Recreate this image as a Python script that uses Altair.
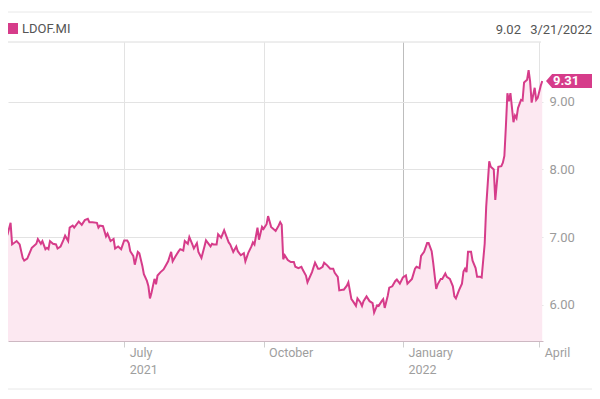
import altair as alt
import pandas as pd

# ---- data ----
dates = [
    "2021-04-10", "2021-04-12", "2021-04-14", "2021-04-15", "2021-04-17", "2021-04-18", "2021-04-21",
    "2021-04-23", "2021-04-25", "2021-04-26", "2021-04-28", "2021-05-01", "2021-05-02", "2021-05-04",
    "2021-05-05", "2021-05-07", "2021-05-08", "2021-05-10", "2021-05-11", "2021-05-12", "2021-05-13",
    "2021-05-15", "2021-05-17", "2021-05-18", "2021-05-20", "2021-05-22", "2021-05-23", "2021-05-25",
    "2021-05-26", "2021-05-28", "2021-05-29", "2021-06-01", "2021-06-03", "2021-06-05", "2021-06-07",
    "2021-06-08", "2021-06-10", "2021-06-13", "2021-06-14", "2021-06-15", "2021-06-17", "2021-06-19",
    "2021-06-20", "2021-06-22", "2021-06-24", "2021-06-25", "2021-06-27", "2021-06-29", "2021-07-01",
    "2021-07-03", "2021-07-04", "2021-07-05", "2021-07-07", "2021-07-08", "2021-07-10", "2021-07-11",
    "2021-07-13", "2021-07-14", "2021-07-16", "2021-07-17", "2021-07-18", "2021-07-19", "2021-07-21",
    "2021-07-22", "2021-07-23", "2021-07-25", "2021-07-27", "2021-07-28", "2021-07-30", "2021-08-01",
    "2021-08-02", "2021-08-04", "2021-08-06", "2021-08-07", "2021-08-09", "2021-08-10", "2021-08-12",
    "2021-08-13", "2021-08-15", "2021-08-16", "2021-08-18", "2021-08-19", "2021-08-21", "2021-08-23",
    "2021-08-24", "2021-08-25", "2021-08-27", "2021-08-28", "2021-08-29", "2021-08-31", "2021-09-01",
    "2021-09-03", "2021-09-05", "2021-09-06", "2021-09-08", "2021-09-09", "2021-09-11", "2021-09-13",
    "2021-09-14", "2021-09-16", "2021-09-18", "2021-09-19", "2021-09-21", "2021-09-23", "2021-09-24",
    "2021-09-25", "2021-09-27", "2021-09-28", "2021-09-30", "2021-10-01", "2021-10-03", "2021-10-04",
    "2021-10-06", "2021-10-09", "2021-10-11", "2021-10-12", "2021-10-13", "2021-10-14", "2021-10-15",
    "2021-10-17", "2021-10-19", "2021-10-21", "2021-10-22", "2021-10-24", "2021-10-26", "2021-10-27",
    "2021-10-29", "2021-10-30", "2021-11-02", "2021-11-04", "2021-11-06", "2021-11-07", "2021-11-09",
    "2021-11-10", "2021-11-12", "2021-11-14", "2021-11-16", "2021-11-17", "2021-11-19", "2021-11-20",
    "2021-11-22", "2021-11-23", "2021-11-25", "2021-11-26", "2021-11-28", "2021-11-29", "2021-12-01",
    "2021-12-02", "2021-12-04", "2021-12-05", "2021-12-06", "2021-12-08", "2021-12-10", "2021-12-12",
    "2021-12-13", "2021-12-15", "2021-12-16", "2021-12-18", "2021-12-19", "2021-12-20", "2021-12-22",
    "2021-12-23", "2021-12-25", "2021-12-27", "2021-12-28", "2021-12-30", "2022-01-01", "2022-01-03",
    "2022-01-04", "2022-01-07", "2022-01-09", "2022-01-10", "2022-01-12", "2022-01-13", "2022-01-15",
    "2022-01-17", "2022-01-18", "2022-01-20", "2022-01-21", "2022-01-23", "2022-01-24", "2022-01-26",
    "2022-01-27", "2022-01-29", "2022-01-30", "2022-02-01", "2022-02-03", "2022-02-04", "2022-02-05",
    "2022-02-07", "2022-02-09", "2022-02-10", "2022-02-11", "2022-02-12", "2022-02-13", "2022-02-15",
    "2022-02-16", "2022-02-18", "2022-02-19", "2022-02-21", "2022-02-22", "2022-02-24", "2022-02-25",
    "2022-02-27", "2022-02-28", "2022-03-02", "2022-03-03", "2022-03-05", "2022-03-07", "2022-03-08",
    "2022-03-09", "2022-03-10", "2022-03-11", "2022-03-12", "2022-03-13", "2022-03-15", "2022-03-16",
    "2022-03-17", "2022-03-18", "2022-03-20", "2022-03-21", "2022-03-22", "2022-03-24", "2022-03-25",
    "2022-03-26", "2022-03-27", "2022-03-29", "2022-03-30", "2022-03-31", "2022-04-02", "2022-04-03",
]
values = [
    7.06, 7.02, 6.99, 7.04, 7.21, 6.89, 6.94,
    6.89, 6.69, 6.65, 6.68, 6.84, 6.86, 6.90,
    6.97, 6.90, 6.94, 6.82, 6.84, 6.82, 6.94,
    6.90, 6.89, 6.83, 6.86, 6.96, 7.02, 6.94,
    7.14, 7.17, 7.14, 7.23, 7.18, 7.25, 7.27,
    7.22, 7.22, 7.21, 7.14, 7.17, 7.16, 7.01,
    7.05, 6.94, 6.97, 6.83, 6.86, 6.82, 6.95,
    6.95, 6.91, 6.79, 6.72, 6.59, 6.78, 6.76,
    6.57, 6.45, 6.35, 6.27, 6.09, 6.17, 6.38,
    6.30, 6.43, 6.48, 6.52, 6.56, 6.64, 6.78,
    6.64, 6.72, 6.79, 6.82, 6.80, 6.94, 6.90,
    7.00, 6.89, 6.83, 6.91, 6.78, 6.69, 6.86,
    6.95, 6.92, 6.86, 6.90, 6.89, 6.89, 7.04,
    6.99, 7.10, 7.04, 6.92, 6.89, 6.78, 6.86,
    6.79, 6.73, 6.76, 6.64, 6.77, 6.86, 6.92,
    6.89, 7.14, 6.96, 7.15, 7.12, 7.19, 7.31,
    7.15, 7.09, 7.17, 7.22, 7.18, 6.67, 6.73,
    6.66, 6.63, 6.63, 6.56, 6.54, 6.56, 6.51,
    6.43, 6.33, 6.48, 6.62, 6.53, 6.53, 6.56,
    6.62, 6.58, 6.53, 6.53, 6.47, 6.41, 6.21,
    6.22, 6.22, 6.28, 6.33, 6.08, 6.05, 5.98,
    6.09, 6.03, 5.98, 6.05, 6.12, 6.05, 6.02,
    5.88, 5.99, 5.98, 6.05, 6.08, 5.95, 6.13,
    6.25, 6.27, 6.35, 6.37, 6.31, 6.40, 6.43,
    6.31, 6.38, 6.53, 6.56, 6.54, 6.72, 6.78,
    6.91, 6.91, 6.79, 6.62, 6.23, 6.30, 6.38,
    6.38, 6.46, 6.41, 6.38, 6.27, 6.12, 6.09,
    6.21, 6.31, 6.49, 6.53, 6.48, 6.78, 6.78,
    6.65, 6.54, 6.41, 6.41, 6.40, 6.90, 7.45,
    8.12, 8.04, 8.00, 7.55, 8.04, 8.05, 8.10,
    8.20, 8.64, 9.13, 9.01, 9.13, 8.70, 8.80,
    8.76, 8.91, 9.03, 9.02, 9.29, 9.33, 9.47,
    9.30, 8.99, 9.21, 9.03, 9.06, 9.24, 9.31,
]

ticker = ["LDOF.MI"]
hover_value = ["9.02"]
hover_date = ["3/21/2022"]
y_ticks = [6, 7, 8, 9]

PINK = "#d63c8a"
FILL = "#fce8f1"
FONT = "Roboto"

df = pd.DataFrame({"date": pd.to_datetime(dates), "value": values})
last = df.tail(1)
hdr = pd.DataFrame({"ticker": ticker, "hv": hover_value, "hd": hover_date})

x_dom = [alt.DateTime(year=2021, month=4, date=15, hours=7),
         alt.DateTime(year=2022, month=4, date=3, hours=12)]
x_vals = [alt.DateTime(year=2021, month=7, date=1),
          alt.DateTime(year=2021, month=10, date=1),
          alt.DateTime(year=2022, month=1, date=1),
          alt.DateTime(year=2022, month=4, date=1)]

label_expr = ("(month(datum.value) == 0 || month(datum.value) == 6) ? "
              "[timeFormat(datum.value, '%B'), timeFormat(datum.value, '%Y')] : "
              "timeFormat(datum.value, '%B')")

x_enc = alt.X(
    "date:T",
    scale=alt.Scale(domain=x_dom),
    axis=alt.Axis(
        values=x_vals, labelExpr=label_expr, title=None,
        labelAlign="left", labelBaseline="top", labelOffset=5, labelPadding=-1,
        labelFontSize=12.5, labelLineHeight=17, labelColor="#9e9e9e", labelFont=FONT,
        labelFlush=False, labelOverlap=False,
        tickSize=6, tickColor="#cfcfcf", domainColor="#cdb8c2",
        gridColor={"condition": {"test": "month(datum.value) === 0", "value": "#bdbdbd"},
                   "value": "#e3e3e3"},
    ),
)
y_enc = alt.Y(
    "value:Q",
    scale=alt.Scale(domain=[5.46, 9.888], nice=False, zero=False),
    axis=alt.Axis(
        orient="right", values=y_ticks, format=".2f", title=None,
        ticks=False, domain=False, labelPadding=6,
        labelFontSize=13, labelColor="#9b9b9b", labelFont=FONT,
        gridColor="#e3e3e3",
    ),
)

base = alt.Chart(df)
area = base.mark_area(color=FILL, clip=True).encode(x=x_enc, y=y_enc)
line = base.mark_line(color=PINK, strokeWidth=2, clip=True).encode(x="date:T", y="value:Q")

top_border = alt.Chart(hdr).mark_rule(color="#dcdcdc").encode(
    x=alt.value(0), x2=alt.value(533), y=alt.value(0))

tag_rect = alt.Chart(last).mark_rect(color=PINK, yOffset=-7, y2Offset=7).encode(
    x=alt.value(544), x2=alt.value(600), y="value:Q", y2="value:Q")
tag_tri = alt.Chart(last).mark_point(
    shape="M-0.43,0L0.45,-1L0.45,1Z", filled=True, size=196, color=PINK, opacity=1,
    strokeWidth=0).encode(x=alt.value(541), y="value:Q")
tag_txt = alt.Chart(last).mark_text(
    align="left", baseline="middle", color="white", fontWeight="bold",
    fontSize=13, font=FONT).encode(
    x=alt.value(545), y="value:Q", text=alt.Text("value:Q", format=".2f"))

sep_top = alt.Chart(hdr).mark_rule(color="#e8e8e8").encode(
    x=alt.value(-8), x2=alt.value(600), y=alt.value(-30))
sep_bot = alt.Chart(hdr).mark_rule(color="#e8e8e8").encode(
    x=alt.value(-8), x2=alt.value(600), y=alt.value(347))
square = alt.Chart(hdr).mark_rect(color=PINK).encode(
    x=alt.value(0), x2=alt.value(10), y=alt.value(-19), y2=alt.value(-8))
t_ticker = alt.Chart(hdr).mark_text(
    align="left", baseline="middle", fontSize=13, font=FONT, color="#555555").encode(
    x=alt.value(14), y=alt.value(-13), text="ticker:N")
t_val = alt.Chart(hdr).mark_text(
    align="right", baseline="middle", fontSize=13, font=FONT, color="#555555").encode(
    x=alt.value(513), y=alt.value(-12), text="hv:N")
t_date = alt.Chart(hdr).mark_text(
    align="right", baseline="middle", fontSize=13, font=FONT, color="#555555").encode(
    x=alt.value(584), y=alt.value(-12), text="hd:N")

chart = alt.layer(
    area, line, top_border, tag_rect, tag_tri, tag_txt,
    sep_top, sep_bot, square, t_ticker, t_val, t_date,
).properties(
    width=535, height=299,
    padding={"left": 0, "top": 34, "right": 49, "bottom": 49},
    autosize=alt.AutoSizeParams(type="none"),
).configure_view(stroke=None)

chart.save("out.html", embed_options={"renderer": "svg", "actions": False})
